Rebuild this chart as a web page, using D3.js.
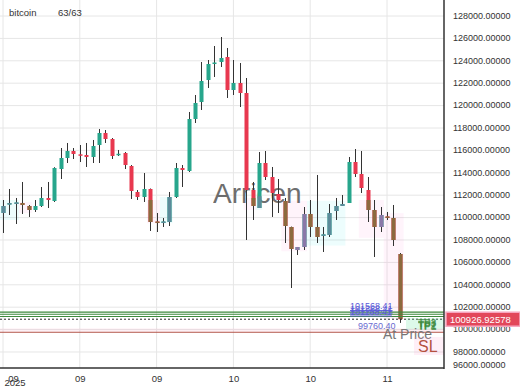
<!DOCTYPE html>
<html>
<head>
<meta charset="utf-8">
<script src="https://cdn.jsdelivr.net/npm/d3@7"></script>
<style>
body { margin: 0; background: #fff; }
svg { display: block; font-family: "Liberation Sans", Arial, sans-serif; }
</style>
</head>
<body>
<script>
// daily candles, Sep 3 -> Nov 4
var opens  = [110411,111200,111250,111304,111036,110679,111036,111750,111482,114339,115321,115946,115650,115589,115411,116482,117554,117018,115600,115768,114607,112286,111839,112554,109650,109560,109607,111839,114429,114161,118804,120321,122286,123750,123893,124339,121393,122018,121125,112464,110857,114875,113625,112107,111482,109161,107107,107375,110321,109161,108400,108446,110589,111036,111304,114964,113893,112464,110679,109161,110100,109964,106750];
var highs  = [111571,112554,111750,113179,111125,111571,112732,113179,114500,116214,116661,116214,116482,116661,116929,117911,117821,117107,116036,115857,114696,112464,113982,112600,110411,109964,112286,114875,114696,119429,120946,123893,124071,125321,126125,125143,124071,123804,122464,113179,115857,115946,114518,113446,111750,109200,107375,110946,111571,113804,109161,111214,111750,112018,115411,116125,115946,113625,111571,110946,110500,111125,106839];
var lows   = [108625,110232,109429,110321,110054,110500,110946,110857,111393,113446,114875,115232,114964,114518,114875,114875,116661,115232,115500,114339,111661,111571,111393,108804,108714,109161,109250,111750,112732,114071,118446,119607,121571,122554,123446,120679,120946,119875,108000,109786,110857,113357,110054,110411,107732,103714,106661,107107,108268,107732,106929,108268,109786,111036,111304,113625,112196,109607,106482,108714,109786,107464,100600];
var closes = [111036,111300,111350,111125,110679,111036,111750,111571,114429,115321,115946,115679,115560,115411,116393,117554,117018,115500,115700,114696,112375,111839,112554,109607,109560,109650,111839,114429,114250,118804,120232,122196,123714,123850,124250,121393,122018,121125,112464,111036,114875,113625,112196,111571,109250,107196,107375,110321,109161,108268,108500,110411,111036,111214,114964,113893,112643,110679,109161,110232,110000,108000,100926.92578];

var tickIdx = [0, 12, 24, 36, 48, 60];
var tickText = ['09', '09', '09', '10', '10', '11'];
var yTicks = [96000,98000,100000,102000,104000,106000,108000,110000,112000,114000,116000,118000,120000,122000,124000,126000,128000,130000];

// shaded zones: candle index span, price span, kind
var zoneFrom = [-0.5, 2.5, 22.5, 24.5, 37.6, 39.5, 43.5, 47.5, 55.6, 59.5];
var zoneTo   = [2.5, 4.5, 24.5, 26.5, 39.5, 40.5, 47.5, 53.5, 59.5, 62.6];
var zoneHi   = [111571, 111393, 111571, 111839, 111750, 111900, 111500, 111500, 111571, 110400];
var zoneLo   = [109786, 110411, 109500, 109500, 110679, 110679, 107000, 107500, 108200, 100927];
var zoneKind = ['c', 'p', 'p', 'c', 'p', 'c', 'p', 'c', 'p', 'p'];

var tpValues = [101568.41, 101368.41, 101168.41];
var tpText = ['TP3', 'TP2', 'TP1'];
var lastPrice = 100926.92578;
var stopLoss = 99760.40;

var W = 520, H = 390, plotR = 444, plotB = 368;
var teal = '#27a68c', red = '#e8384f';

var svg = d3.select('body').append('svg').attr('width', W).attr('height', H);

var x = d3.scaleLinear().domain([0, 62]).range([3, 399.8]);
var y = d3.scaleLinear().domain([96571, 129429]).range([plotB, 0]);

var defs = svg.append('defs');
defs.append('clipPath').attr('id', 'plot').append('rect')
    .attr('x', 0).attr('y', 0).attr('width', plotR).attr('height', plotB);

var plot = svg.append('g').attr('clip-path', 'url(#plot)');

// grid
plot.selectAll('.hg').data(yTicks).enter().append('line')
    .attr('x1', 0).attr('x2', plotR)
    .attr('y1', function(d) { return y(d); }).attr('y2', function(d) { return y(d); })
    .attr('stroke', '#e6e6e6');
plot.selectAll('.vg').data(tickIdx).enter().append('line')
    .attr('x1', function(d) { return x(d); }).attr('x2', function(d) { return x(d); })
    .attr('y1', 0).attr('y2', plotB)
    .attr('stroke', '#e6e6e6');

// zones behind
var zoneFill = { p: 'rgba(255,120,200,0.08)', c: 'rgba(0,225,225,0.07)' };
zoneFrom.forEach(function(f, k) {
    plot.append('rect')
        .attr('x', x(f)).attr('width', x(zoneTo[k]) - x(f))
        .attr('y', y(zoneHi[k])).attr('height', y(zoneLo[k]) - y(zoneHi[k]))
        .attr('fill', zoneFill[zoneKind[k]]);
});

// SL band
plot.append('rect').attr('x', 0).attr('width', plotR)
    .attr('y', y(stopLoss) - 4).attr('height', 4)
    .attr('fill', 'rgba(255,150,190,0.12)');

// watermark
plot.append('text').attr('x', 213).attr('y', 203)
    .attr('font-size', 28).attr('fill', '#555').attr('opacity', 0.85)
    .text('Arricen');

var idx = d3.range(opens.length);

// wicks
plot.selectAll('.wick').data(idx).enter().append('line')
    .attr('x1', function(i) { return Math.round(x(i)) + 0.5; })
    .attr('x2', function(i) { return Math.round(x(i)) + 0.5; })
    .attr('y1', function(i) { return y(highs[i]); })
    .attr('y2', function(i) { return y(lows[i]); })
    .attr('stroke', '#333').attr('stroke-width', 1);

function bodies(g, colorFn) {
    g.selectAll('rect').data(idx).enter().append('rect')
        .attr('x', function(i) { return Math.round(x(i)) - 1.5; })
        .attr('width', 4)
        .attr('y', function(i) { return y(Math.max(opens[i], closes[i])); })
        .attr('height', function(i) { return Math.max(1.5, Math.abs(y(opens[i]) - y(closes[i]))); })
        .attr('fill', colorFn);
}

bodies(plot.append('g'), function(i) { return closes[i] >= opens[i] ? teal : red; });

// tinted bodies inside zones
var tint = { p: { up: '#8a78a8', dn: '#8c6a3e' }, c: { up: '#5b8b9a', dn: '#8c6a3e' } };
zoneFrom.forEach(function(f, k) {
    var id = 'z' + k;
    defs.append('clipPath').attr('id', id).append('rect')
        .attr('x', x(f)).attr('width', x(zoneTo[k]) - x(f))
        .attr('y', y(zoneHi[k])).attr('height', y(zoneLo[k]) - y(zoneHi[k]));
    var t = tint[zoneKind[k]];
    bodies(plot.append('g').attr('clip-path', 'url(#' + id + ')'), function(i) {
        return closes[i] >= opens[i] ? t.up : t.dn;
    });
});

// TP lines
plot.selectAll('.tp').data(tpValues).enter().append('line')
    .attr('x1', 0).attr('x2', plotR)
    .attr('y1', function(d) { return y(d); }).attr('y2', function(d) { return y(d); })
    .attr('stroke', '#3d8a3d').attr('stroke-width', 1.2);
// last price
plot.append('line').attr('x1', 0).attr('x2', plotR)
    .attr('y1', y(lastPrice)).attr('y2', y(lastPrice))
    .attr('stroke', '#222').attr('stroke-dasharray', '2,2');
// SL
plot.append('line').attr('x1', 0).attr('x2', plotR)
    .attr('y1', y(stopLoss)).attr('y2', y(stopLoss))
    .attr('stroke', '#b4584c').attr('stroke-width', 1);

// level labels
plot.selectAll('.tpl').data(tpValues).enter().append('text')
    .attr('x', 350).attr('y', function(d, k) { return y(d) - 3 + k * 0.5; })
    .attr('font-size', 9).attr('fill', '#5a5ad8')
    .attr('text-decoration', 'underline')
    .text(function(d) { return d.toFixed(2); });
plot.append('text').attr('x', 358).attr('y', y(stopLoss) - 3)
    .attr('font-size', 9).attr('fill', '#6a6ad0').text(stopLoss.toFixed(2));

plot.append('rect').attr('x', 406).attr('y', y(lastPrice) - 1).attr('width', 38).attr('height', 11)
    .attr('fill', 'rgba(120,230,170,0.25)');
plot.append('text').attr('x', 383).attr('y', 339)
    .attr('font-size', 14).attr('fill', '#777').text('At Price');
plot.selectAll('.tpt').data(tpText).enter().append('text')
    .attr('x', 418).attr('y', function(d, k) { return y(lastPrice) + 8 + k * 1.5; })
    .attr('font-size', 10).attr('font-weight', 'bold').attr('fill', '#3d8a3d')
    .attr('opacity', 0.8).text(function(d) { return d; });
plot.append('rect').attr('x', 414).attr('y', 337).attr('width', 30).attr('height', 18)
    .attr('fill', 'rgba(255,150,200,0.15)');
plot.append('text').attr('x', 418).attr('y', 352)
    .attr('font-size', 16).attr('fill', '#b4503f').text('SL');

// axes
var yAxis = svg.append('g').attr('transform', 'translate(' + plotR + ',0)')
    .call(d3.axisRight(y).tickValues(yTicks).tickSize(0).tickPadding(9)
        .tickFormat(function(d) { return d.toFixed(5); }));
yAxis.select('.domain').remove();
yAxis.selectAll('text').attr('font-size', 9).attr('fill', '#333')
    .attr('font-family', '"Liberation Sans", Arial, sans-serif');
yAxis.selectAll('.tick').attr('transform', function(d) {
    return 'translate(0,' + Math.max(-2.5, Math.min(365, y(d))) + ')';
});

var xAxis = svg.append('g').attr('transform', 'translate(0,' + plotB + ')')
    .call(d3.axisBottom(x).tickValues(tickIdx).tickSize(0).tickPadding(7)
        .tickFormat(function(d, k) { return tickText[k]; }));
xAxis.select('.domain').remove();
xAxis.selectAll('text').attr('font-size', 9.5).attr('fill', '#333')
    .attr('font-family', '"Liberation Sans", Arial, sans-serif');
xAxis.select('.tick text').attr('x', 10);
xAxis.append('text').attr('x', 15).attr('y', 18).attr('text-anchor', 'middle')
    .attr('font-size', 9.5).attr('fill', '#333').text('2025');

svg.append('line').attr('x1', plotR).attr('x2', plotR).attr('y1', 0).attr('y2', plotB + 1)
    .attr('stroke', '#333').attr('stroke-width', 1.5);
svg.append('line').attr('x1', 0).attr('x2', plotR).attr('y1', plotB).attr('y2', plotB)
    .attr('stroke', '#333').attr('stroke-width', 1.5);

// last price tag
svg.append('rect').attr('x', 446).attr('y', y(lastPrice) - 7).attr('width', 74).attr('height', 14)
    .attr('fill', '#e2475a').attr('stroke', '#f7a8c0').attr('stroke-width', 1.5);
svg.append('text').attr('x', 450).attr('y', y(lastPrice) + 3.5)
    .attr('font-size', 9.5).attr('fill', '#fff').text(lastPrice.toFixed(5));

// title
svg.append('text').attr('x', 9).attr('y', 16).attr('font-size', 9.5).attr('fill', '#333').text('bitcoin');
svg.append('text').attr('x', 58).attr('y', 16).attr('font-size', 9.5).attr('fill', '#333').text('63/63');
</script>
</body>
</html>
